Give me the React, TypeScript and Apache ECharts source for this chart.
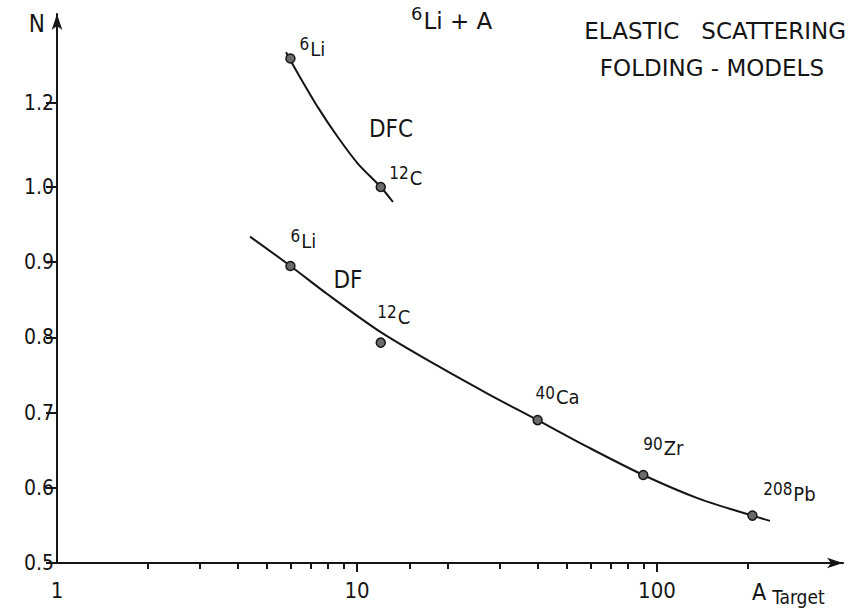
import React, { useEffect, useRef } from "react";
import * as echarts from "echarts";

// ---- data ----
// DF (double folding) normalisation N versus target mass number
const dfTargets = ["6Li", "12C", "40Ca", "90Zr", "208Pb"];
const dfMass = [6, 12, 40, 90, 208];
const dfN = [0.895, 0.793, 0.69, 0.617, 0.563];

// DFC normalisation
const dfcTargets = ["6Li", "12C"];
const dfcMass = [6, 12];
const dfcN = [1.305, 1.0];

// hand drawn trend curves
const dfCurveMass = [4.4, 6, 8, 12, 18.6, 27.3, 40, 58.9, 90, 137, 208, 238];
const dfCurveN = [0.934, 0.895, 0.857, 0.807, 0.762, 0.725, 0.69, 0.654, 0.617, 0.586, 0.563, 0.556];
const dfcCurveMass = [5.8, 6.36, 7.41, 8.64, 10.08, 12, 13.18];
const dfcCurveN = [1.32, 1.269, 1.189, 1.118, 1.055, 1.0, 0.98];

// axis ticks
const yTickLabels = [0.5, 0.6, 0.7, 0.8, 0.9, 1.0, 1.2];
const xTickLabels = [1, 10, 100];
const xMinorTicks = [2, 3, 4, 5, 6, 7, 8, 9, 15, 20, 30, 40, 50, 60, 70, 80, 90, 200];
const xMaxMass = 417;

// ---- presentation ----
// the ordinate is compressed above N = 1.0 in the original figure
const K_ABOVE_ONE = 0.56;
const toAxisN = (n: number) => (n <= 1 ? n : 1 + (n - 1) * K_ABOVE_ONE);
const lg = (a: number) => Math.log10(a);

const FONT = "'DejaVu Sans Condensed', 'Liberation Sans Narrow', 'DejaVu Sans', sans-serif";
const TITLE_FONT = "'DejaVu Sans', 'Liberation Sans', sans-serif";
const INK = "#151515";

const labelOffsets: Record<string, Record<string, number[]>> = {
  df: { "6Li": [13, -25], "12C": [13, -26], "40Ca": [20, -23], "90Zr": [20, -27], "208Pb": [37, -22] },
  dfc: { "6Li": [22, -10], "12C": [25, -9] },
};

function nuclide(name: string) {
  const m = name.match(/^(\d+)(\D+)$/);
  return m ? `{n|${m[1]}}{el|${m[2]}}` : name;
}

export default function App() {
  const ref = useRef<HTMLDivElement>(null);

  useEffect(() => {
    if (!ref.current) return;
    const chart = echarts.init(ref.current, null, { renderer: "svg" });

    const nuclideRich = {
      n: { fontSize: 17, lineHeight: 17, fontFamily: FONT, color: INK, padding: [0, 1, 9, 0] },
      el: { fontSize: 20, lineHeight: 20, fontFamily: FONT, color: INK, verticalAlign: "bottom" },
    };

    const pointSeries = (
      name: string,
      targets: string[],
      mass: number[],
      n: number[],
      offsets: Record<string, number[]>
    ) => ({
      type: "scatter",
      name,
      symbol: "circle",
      symbolSize: 9,
      itemStyle: { color: "#6a6a6a", borderColor: INK, borderWidth: 1.5, opacity: 1 },
      data: targets.map((t, i) => ({
        name: t,
        value: [lg(mass[i]), toAxisN(n[i])],
        label: { offset: offsets[t] },
      })),
      label: {
        show: true,
        position: "inside",
        formatter: (p: any) => nuclide(p.name),
        rich: nuclideRich,
      },
      z: 5,
    });

    const curveSeries = (name: string, mass: number[], n: number[]) => ({
      type: "line",
      name,
      smooth: 0.3,
      showSymbol: false,
      symbol: "none",
      lineStyle: { color: INK, width: 2 },
      data: mass.map((a, i) => [lg(a), toAxisN(n[i])]),
      z: 3,
    });

    const yTickPos = yTickLabels.map(toAxisN);
    const xAxisBase = {
      type: "value",
      min: 0,
      max: lg(xMaxMass),
      position: "bottom",
      gridIndex: 0,
      splitLine: { show: false },
    };

    chart.setOption({
      animation: false,
      backgroundColor: "#ffffff",
      textStyle: { fontFamily: FONT, color: INK },
      grid: { left: 57, right: 848 - 57 - 300 * lg(xMaxMass), top: 14, bottom: 51, containLabel: false },
      xAxis: [
        {
          ...xAxisBase,
          axisLine: {
            show: true,
            onZero: false,
            symbol: ["none", "arrow"],
            symbolSize: [8, 16],
            lineStyle: { color: INK, width: 2 },
          },
          axisTick: {
            show: true,
            inside: false,
            length: 9,
            customValues: xTickLabels.slice(1).map(lg),
            lineStyle: { color: INK, width: 2 },
          },
          axisLabel: {
            show: true,
            customValues: xTickLabels.map(lg),
            formatter: (v: number) => String(Math.round(Math.pow(10, v))),
            fontSize: 22,
            fontFamily: FONT,
            color: INK,
            margin: 16,
          },
        },
        {
          ...xAxisBase,
          axisLine: { show: false, onZero: false },
          axisTick: {
            show: true,
            inside: false,
            length: 6,
            customValues: xMinorTicks.map(lg),
            lineStyle: { color: INK, width: 2 },
          },
          axisLabel: { show: false },
        },
      ],
      yAxis: {
        type: "value",
        min: 0.5,
        max: 1.23,
        splitLine: { show: false },
        axisLine: {
          show: true,
          onZero: false,
          symbol: ["none", "arrow"],
          symbolSize: [8, 16],
          lineStyle: { color: INK, width: 2 },
        },
        axisTick: {
          show: true,
          inside: false,
          length: 11,
          customValues: yTickPos,
          lineStyle: { color: INK, width: 2 },
        },
        axisLabel: {
          show: true,
          customValues: yTickPos,
          formatter: (v: number) => {
            const i = yTickPos.findIndex((p) => Math.abs(p - v) < 1e-6);
            return i >= 0 ? yTickLabels[i].toFixed(1) : "";
          },
          fontSize: 21,
          fontFamily: FONT,
          color: INK,
          margin: 3,
        },
        name: "N",
        nameLocation: "end",
        nameGap: -10,
        nameTextStyle: {
          fontSize: 24,
          fontFamily: FONT,
          color: INK,
          align: "right",
          verticalAlign: "middle",
          padding: [0, 12, 0, 0],
        },
      },
      series: [
        curveSeries("DF curve", dfCurveMass, dfCurveN),
        curveSeries("DFC curve", dfcCurveMass, dfcCurveN),
        pointSeries("DF", dfTargets, dfMass, dfN, labelOffsets.df),
        pointSeries("DFC", dfcTargets, dfcMass, dfcN, labelOffsets.dfc),
      ],
      graphic: [
        {
          type: "text",
          x: 411,
          y: 9,
          style: {
            text: "{n|6}{el|Li + A}",
            verticalAlign: "top",
            align: "left",
            rich: {
              n: { fontSize: 18, lineHeight: 18, fontFamily: TITLE_FONT, fill: INK, padding: [0, 1, 14, 0] },
              el: { fontSize: 23, lineHeight: 23, fontFamily: TITLE_FONT, fill: INK, verticalAlign: "bottom" },
            },
          },
        },
        {
          type: "text",
          x: 846,
          y: 30.5,
          style: {
            text: "ELASTIC   SCATTERING",
            fontSize: 23,
            fontFamily: TITLE_FONT,
            fill: INK,
            align: "right",
            verticalAlign: "middle",
          },
        },
        {
          type: "text",
          x: 824,
          y: 68,
          style: {
            text: "FOLDING - MODELS",
            fontSize: 23,
            fontFamily: TITLE_FONT,
            fill: INK,
            align: "right",
            verticalAlign: "middle",
          },
        },
        {
          type: "text",
          x: 348,
          y: 280,
          style: { text: "DF", fontSize: 24, fontFamily: FONT, fill: INK, align: "center", verticalAlign: "middle" },
        },
        {
          type: "text",
          x: 391,
          y: 129,
          style: { text: "DFC", fontSize: 24, fontFamily: FONT, fill: INK, align: "center", verticalAlign: "middle" },
        },
        {
          type: "text",
          x: 752,
          y: 583,
          style: {
            text: "{a|A}{t|Target}",
            verticalAlign: "top",
            align: "left",
            rich: {
              a: { fontSize: 23, lineHeight: 23, fontFamily: FONT, fill: INK, padding: [0, 6, 5, 0] },
              t: { fontSize: 19, lineHeight: 19, fontFamily: FONT, fill: INK, verticalAlign: "bottom" },
            },
          },
        },
      ],
    });

    return () => chart.dispose();
  }, []);

  return (
    <div
      ref={ref}
      style={{ position: "fixed", left: 0, top: 0, width: 848, height: 614, background: "#fff" }}
    />
  );
}
